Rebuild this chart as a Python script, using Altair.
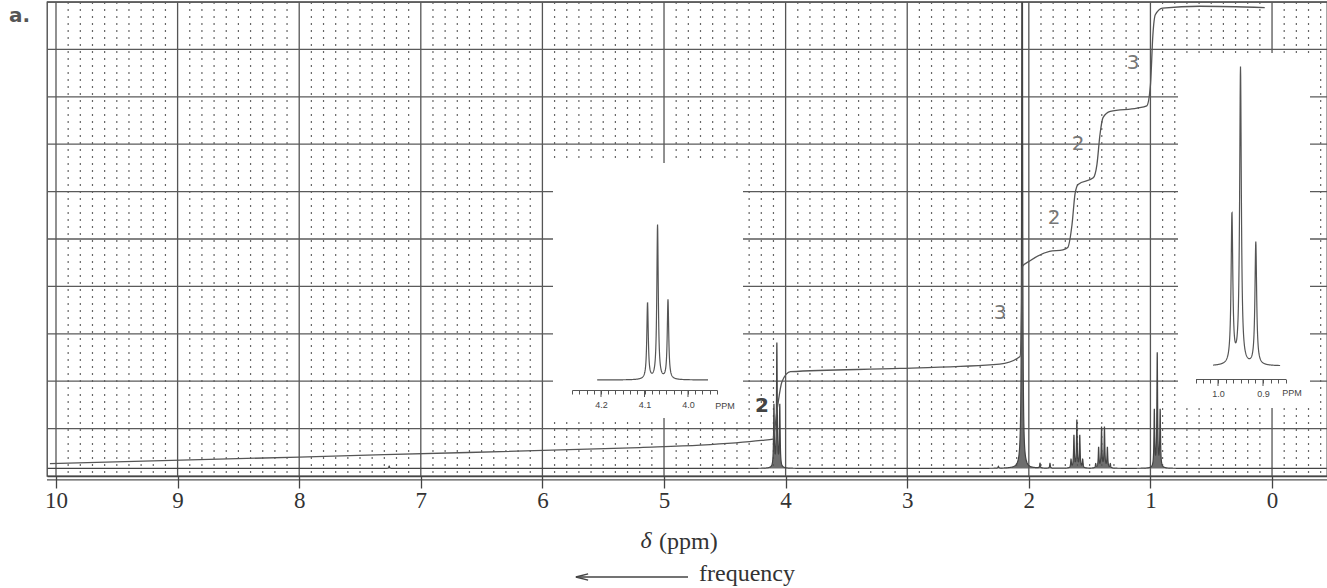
import altair as alt
import numpy as np
import pandas as pd

# ================= values =================
# main chemical-shift axis (ppm) and chart-paper grid
major_ppm = [10, 9, 8, 7, 6, 5, 4, 3, 2, 1, 0]
minor_ppm = [v / 10 for v in range(-4, 101) if v % 10 != 0]
grid_levels = [1, 2, 3, 4, 5, 6, 7, 8, 9, 10]
edge_levels = [-0.08]

# main spectrum: resonance lines (ppm) and heights (grid units above baseline)
line_ppm = [4.096, 4.072, 4.048,
            2.055,
            1.653, 1.629, 1.605, 1.581, 1.557,
            1.450, 1.426, 1.402, 1.378, 1.354, 1.330,
            0.968, 0.944, 0.920,
            7.26, 2.25, 1.908, 1.826]
line_height = [1.3, 2.6, 1.3,
               16.0,
               0.17, 0.68, 1.0, 0.68, 0.17,
               0.085, 0.43, 0.85, 0.85, 0.43, 0.085,
               1.2, 2.4, 1.2,
               0.05, 0.04, 0.1, 0.1]
baseline_level = 0.16

# integral trace (ppm, grid units)
integ_ppm = [10.05, 8.0, 7.3, 5.2, 4.7, 4.2, 4.104, 4.07, 4.03, 3.96, 3.06, 2.24,
             2.072, 2.06, 2.056, 1.99, 1.83, 1.72, 1.68, 1.645, 1.62, 1.595,
             1.47, 1.44, 1.415, 1.39, 1.33, 1.11, 1.03, 1.00, 0.98, 0.96,
             0.90, 0.59, 0.06]
integ_level = [0.26, 0.40, 0.45, 0.60, 0.65, 0.75, 0.78, 1.40, 1.99, 2.20, 2.27, 2.36,
               2.52, 3.50, 4.41, 4.54, 4.74, 4.77, 4.82, 5.30, 5.95, 6.15,
               6.29, 6.57, 7.20, 7.56, 7.69, 7.76, 7.81, 8.24, 9.30, 9.73,
               9.87, 9.91, 9.88]

# integration numbers
label_ppm = [1.143, 1.595, 1.793, 2.237]
label_level = [8.71, 7.0, 5.44, 3.43]
label_text = ["3", "2", "2", "3"]
label_b_ppm = [4.194]
label_b_level = [1.47]
label_b_text = ["2"]

# inset 1: expansion of the 4.07 ppm triplet
in1_line_ppm = [4.093, 4.070, 4.046]
in1_line_height = [0.49, 0.99, 0.51]
in1_span = [4.209, 3.954]
in1_major = [4.2, 4.1, 4.0]
in1_ticks = [round(4.2 + k / 60, 5) for k in range(4, -17, -1)]

# inset 2: expansion of the 0.95 ppm triplet
in2_line_ppm = [0.969, 0.950, 0.916]
in2_line_height = [0.50, 0.99, 0.41]
in2_span = [1.011, 0.862]
in2_major = [1.0, 0.9]
in2_ticks = [round(1.0 + k / 60, 5) for k in range(3, -10, -1)]


# ================= build tables =================
def lorentz_sum(x, centers, heights, fwhm, base=0.0):
    x = np.asarray(x, dtype=float)[:, None]
    c = np.asarray(centers, dtype=float)[None, :]
    h = np.asarray(heights, dtype=float)[None, :]
    return base + (h / (1.0 + (2.0 * (x - c) / fwhm) ** 2)).sum(axis=1)


xs = [np.arange(-0.45, 10.074, 0.004)]
for p in line_ppm:
    xs.append(np.arange(p - 0.04, p + 0.04, 0.0004))
xs = np.unique(np.round(np.concatenate(xs), 5))
main_spec = pd.DataFrame({"ppm": xs,
                          "lvl": lorentz_sum(xs, line_ppm, line_height, 0.007, baseline_level)})

integ_df = pd.DataFrame({"ppm": integ_ppm, "lvl": integ_level, "i": range(len(integ_ppm))})

x1 = np.arange(in1_span[1], in1_span[0], 0.0004)
in1_df = pd.DataFrame({"ppm": x1, "lvl": lorentz_sum(x1, in1_line_ppm, in1_line_height, 0.004)})
x2 = np.arange(in2_span[1], in2_span[0], 0.0004)
in2_df = pd.DataFrame({"ppm": x2, "lvl": lorentz_sum(x2, in2_line_ppm, in2_line_height, 0.0045)})

# ================= main panel =================
W, H = 1280, 474
X_SCALE = alt.Scale(domain=[10.074, -0.452], nice=False, zero=False)
Y_SCALE = alt.Scale(domain=[0, 10.0], nice=False, zero=False)
MAIN_AXIS = alt.Axis(values=major_ppm, format="d", tickSize=12, tickWidth=1.3,
                     tickColor="#444", domainColor="#444", domainWidth=1.5,
                     labelFont="Liberation Serif", labelFontSize=23, labelColor="#333",
                     labelPadding=1, labelFlush=False, grid=False, title=None, zindex=1)


def mx(field="ppm:Q"):
    return alt.X(field, scale=X_SCALE, axis=MAIN_AXIS, title=None)


def my(field="lvl:Q"):
    return alt.Y(field, scale=Y_SCALE, axis=None, title=None)


minor_grid = alt.Chart(pd.DataFrame({"ppm": minor_ppm})).mark_rule(
    color="#666", strokeWidth=1.2, strokeDash=[2, 5]).encode(x=mx())
major_grid = alt.Chart(pd.DataFrame({"ppm": major_ppm})).mark_rule(
    color="#555", strokeWidth=1.3).encode(x=mx())
h_grid = alt.Chart(pd.DataFrame({"lvl": grid_levels})).mark_rule(
    color="#5a5a5a", strokeWidth=1.3).encode(y=my())
edge = alt.Chart(pd.DataFrame({"lvl": edge_levels})).mark_rule(
    color="#555", strokeWidth=1.2).encode(y=my())

spec_area = alt.Chart(main_spec).mark_area(color="#555", opacity=0.85, clip=True).encode(
    x=mx(), y=my(), y2=alt.datum(baseline_level))
spec_line = alt.Chart(main_spec).mark_line(color="#444", strokeWidth=1.2, clip=True).encode(
    x=mx(), y=my())

integral = alt.Chart(integ_df).mark_line(color="#555", strokeWidth=1.3,
                                         interpolate="monotone").encode(
    x=mx(), y=my(), order="i:Q")

labels = alt.Chart(pd.DataFrame({"ppm": label_ppm, "lvl": label_level, "t": label_text})).mark_text(
    font="DejaVu Sans", fontSize=20, color="#777").encode(x=mx(), y=my(), text="t:N")
labels_b = alt.Chart(pd.DataFrame({"ppm": label_b_ppm, "lvl": label_b_level, "t": label_b_text})).mark_text(
    font="DejaVu Sans", fontSize=20, fontWeight="bold", color="#444").encode(x=mx(), y=my(), text="t:N")

one = pd.DataFrame({"t": ["x"]})
part_label = alt.Chart(one).mark_text(font="DejaVu Sans", fontSize=20, fontWeight="bold",
                                      color="#555", align="left").encode(
    x=alt.value(-38), y=alt.value(14), text=alt.value("a."))
delta = alt.Chart(one).mark_text(font="Liberation Serif", fontSize=24, fontStyle="italic",
                                 color="#333", align="center").encode(
    x=alt.value(599), y=alt.value(539), text=alt.value("δ"))
ppm_t = alt.Chart(one).mark_text(font="Liberation Serif", fontSize=24, color="#333",
                                 align="left").encode(
    x=alt.value(612), y=alt.value(540), text=alt.value("(ppm)"))
freq = alt.Chart(one).mark_text(font="Liberation Serif", fontSize=24, color="#333",
                                align="left").encode(
    x=alt.value(652), y=alt.value(572), text=alt.value("frequency"))
arrow_shaft = alt.Chart(one).mark_rule(color="#444", strokeWidth=1.4).encode(
    x=alt.value(529), x2=alt.value(641), y=alt.value(575))
arrow_head = alt.Chart(one).mark_point(shape="M 1 -0.5 L -1 0 L 1 0.5", size=150, filled=False,
                                       color="#444", strokeWidth=1.4, opacity=1).encode(
    x=alt.value(535), y=alt.value(575))

main = alt.layer(minor_grid, major_grid, h_grid, edge, spec_area, spec_line, integral,
                 labels, labels_b, part_label, delta, ppm_t, freq, arrow_shaft, arrow_head)


# ================= insets =================
def inset(df, ticks, majors, x_domain, x_range, y_range, axis_y, box, ppm_xy):
    xs_ = alt.Scale(domain=x_domain, range=x_range, nice=False, zero=False)
    ys_ = alt.Scale(domain=[0, 1], range=y_range, nice=False, zero=False)
    ax = alt.Axis(orient="bottom", offset=axis_y - H, values=ticks, tickSize=4, tickWidth=1,
                  tickColor="#555", domainColor="#555", domainWidth=1.2,
                  labelExpr="abs(datum.value*10 - round(datum.value*10)) < 0.001 ? format(datum.value, '.1f') : ''",
                  labelFont="Liberation Sans", labelFontSize=9, labelColor="#444",
                  labelPadding=6, labelFlush=False, grid=False, title=None, zindex=2)
    white = alt.Chart(one).mark_rect(color="white").encode(
        x=alt.value(box[0]), x2=alt.value(box[1]), y=alt.value(box[2]), y2=alt.value(box[3]))
    trace = alt.Chart(df).mark_line(color="#555", strokeWidth=1.2).encode(
        x=alt.X("ppm:Q", scale=xs_, axis=ax, title=None),
        y=alt.Y("lvl:Q", scale=ys_, axis=None, title=None))
    major_ticks = alt.Chart(pd.DataFrame({"ppm": majors})).mark_rule(color="#555", strokeWidth=1).encode(
        x=alt.X("ppm:Q", scale=xs_, axis=ax, title=None),
        y=alt.value(axis_y), y2=alt.value(axis_y + 7))
    ppm_label = alt.Chart(one).mark_text(font="Liberation Sans", fontSize=9, color="#444").encode(
        x=alt.value(ppm_xy[0]), y=alt.value(ppm_xy[1]), text=alt.value("PPM"))
    return alt.layer(white, trace, major_ticks, ppm_label)


inset1 = inset(in1_df, in1_ticks, in1_major, [in1_ticks[0], in1_ticks[-1]], [525, 670],
               [378, 222], 388, [506, 696, 161, 416], [678, 404])
inset2 = inset(in2_df, in2_ticks, in2_major, [in2_ticks[0], in2_ticks[-1]], [1148.5, 1238.5],
               [364, 64], 377, [1131, 1263, 51, 406], [1245, 391])

chart = alt.layer(main, inset1, inset2).resolve_scale(
    x="independent", y="independent"
).properties(
    width=W, height=H,
    autosize=alt.AutoSizeParams(type="none"),
    padding={"left": 47, "top": 2, "right": 0, "bottom": 112},
    background="white",
).configure_view(stroke="#444", strokeWidth=1.3)

chart.save("out.html", embed_options={"renderer": "svg", "actions": False})
